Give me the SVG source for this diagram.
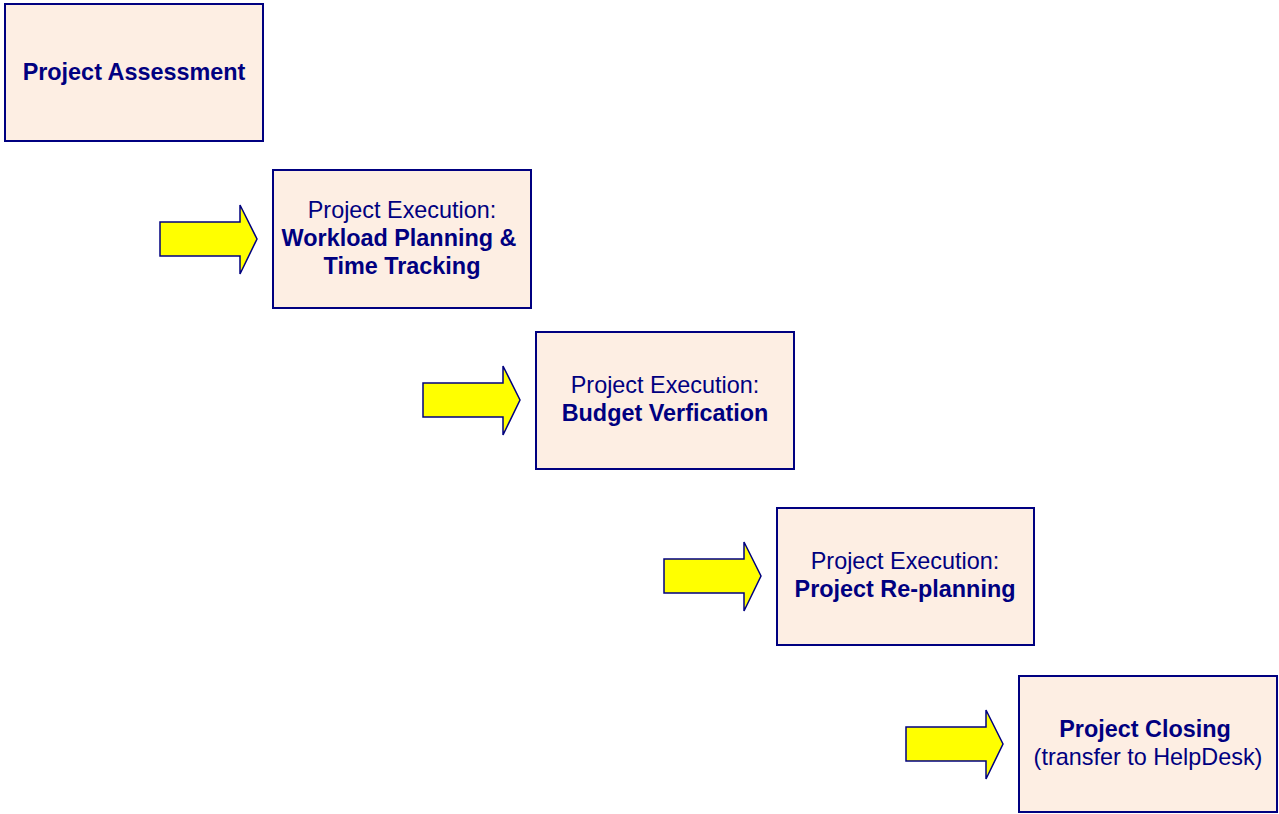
<svg xmlns="http://www.w3.org/2000/svg" width="1279" height="814" viewBox="0 0 1279 814">
  <style>
    .box { fill: #FDEEE3; stroke: #000080; stroke-width: 2; }
    .arrow { fill: #FFFF00; stroke: #000080; stroke-width: 1.5; stroke-linejoin: miter; }
    text { font-family: "Liberation Sans", Arial, sans-serif; font-size: 23.4px; fill: #000080; text-anchor: middle; }
    .b { font-weight: bold; }
  </style>
  <defs>
    <path id="blockArrow" class="arrow" d="M0,17 H80 V0 L97,34 L80,69 V51 H0 Z"/>
  </defs>
  <rect width="1279" height="814" fill="#FFFFFF"/>

  <g id="connectors">
    <use href="#blockArrow" x="160" y="205"/>
    <use href="#blockArrow" x="423" y="366"/>
    <use href="#blockArrow" x="664" y="542"/>
    <use href="#blockArrow" x="906" y="710"/>
  </g>

  <g id="assessment">
    <rect class="box" x="5" y="4" width="258" height="137"/>
    <text class="b" x="134" y="80">Project Assessment</text>
  </g>

  <g id="workload">
    <rect class="box" x="273" y="170" width="258" height="138"/>
    <text x="402" y="218">Project Execution:</text>
    <text class="b" x="399" y="246">Workload Planning &amp;</text>
    <text class="b" x="402" y="274">Time Tracking</text>
  </g>

  <g id="budget">
    <rect class="box" x="536" y="332" width="258" height="137"/>
    <text x="665" y="393">Project Execution:</text>
    <text class="b" x="665" y="421">Budget Verfication</text>
  </g>

  <g id="replanning">
    <rect class="box" x="777" y="508" width="257" height="137"/>
    <text x="905" y="569">Project Execution:</text>
    <text class="b" x="905" y="597">Project Re-planning</text>
  </g>

  <g id="closing">
    <rect class="box" x="1019" y="676" width="258" height="136"/>
    <text class="b" x="1145" y="737">Project Closing</text>
    <text x="1148" y="765">(transfer to HelpDesk)</text>
  </g>
</svg>
